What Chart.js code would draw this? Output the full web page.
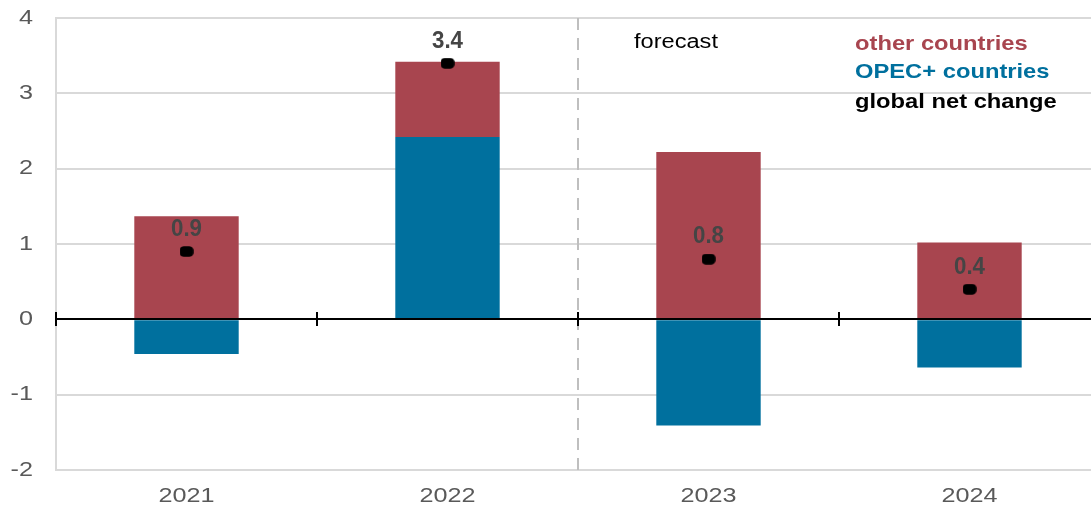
<!DOCTYPE html>
<html><head><meta charset="utf-8">
<script src="https://cdn.jsdelivr.net/npm/chart.js@4"></script>
<style>html,body{margin:0;padding:0;overflow:hidden;background:#fff;width:1091px;height:517px}canvas{display:block}</style>
</head><body>
<canvas id="c" width="1091" height="517" style="width:1091px;height:517px"></canvas>
<script>
const categories = ['2021','2022','2023','2024'];
const opecCountries = [-0.46, 2.42, -1.41, -0.64];
const otherCountries = [1.37, 1.0, 2.22, 1.02];
const globalNetChange = [0.9, 3.4, 0.8, 0.4];
const netLabels = ['0.9','3.4','0.8','0.4'];
const yTicks = [-2,-1,0,1,2,3,4];

const RED = '#a8454f', BLUE = '#00709e';
const FONT = '"Liberation Sans", Arial, sans-serif';

const dot = document.createElement('canvas');
dot.width = 14; dot.height = 11;
(function(){const g=dot.getContext('2d');g.fillStyle='#000';g.beginPath();g.roundRect(0.5,0.5,13,10,4);g.fill();})();

function txt(ctx, s, x, y, font, color, align, sx){
  ctx.save();
  ctx.translate(x, y); ctx.scale(sx, 1);
  ctx.font = font; ctx.fillStyle = color; ctx.textAlign = align; ctx.textBaseline = 'middle';
  ctx.fillText(s, 0, 0);
  ctx.restore();
}

// the plot area of the original continues a few pixels past the right edge of the picture
const extendRight = {
  id:'extendRight',
  afterLayout(chart){
    const a = chart.chartArea, x = chart.scales.x;
    a.right = 1100; a.width = a.right - a.left;
    x.right = 1100; x.width = x.right - x.left;
    x.configure();
  }
};

const overlay = {
  id:'overlay',
  beforeDatasetsDraw(chart){
    const {ctx, chartArea:a, scales:{x,y}} = chart;
    const mid = (x.getPixelForTick(1)+x.getPixelForTick(2))/2;
    ctx.save();
    ctx.strokeStyle='#bfbfbf'; ctx.lineWidth=2; ctx.setLineDash([12,8]);
    ctx.beginPath(); ctx.moveTo(mid, a.top); ctx.lineTo(mid, a.bottom); ctx.stroke();
    ctx.restore();
  },
  afterDatasetsDraw(chart){
    const {ctx, chartArea:a, scales:{x,y}} = chart;
    const step = x.getPixelForTick(1)-x.getPixelForTick(0);
    const y0 = Math.round(y.getPixelForValue(0));
    ctx.save();
    ctx.strokeStyle='#000'; ctx.lineWidth=2;
    ctx.beginPath(); ctx.moveTo(a.left, y0); ctx.lineTo(a.right, y0); ctx.stroke();
    for(let i=0;i<categories.length;i++){
      const bx = Math.round(x.getPixelForTick(i)-step/2);
      ctx.beginPath(); ctx.moveTo(bx, y0-7); ctx.lineTo(bx, y0+7); ctx.stroke();
    }
    ctx.restore();
    yTicks.forEach(v => txt(ctx, String(v), 33, y.getPixelForValue(v), '21px '+FONT, '#595959', 'right', 1.2));
    categories.forEach((c,i) => txt(ctx, c, x.getPixelForTick(i), 496, '21px '+FONT, '#595959', 'center', 1.2));
    const meta = chart.getDatasetMeta(2);
    meta.data.forEach((p,i)=> txt(ctx, netLabels[i], p.x, p.y-22, 'bold 23px '+FONT, '#454545', 'center', 0.97));
    meta.data.forEach(p=>{ ctx.drawImage(dot, p.x-7, p.y-5.5); });
    txt(ctx, 'forecast', 634, 42, '20px '+FONT, '#000', 'left', 1.18);
    txt(ctx, 'other countries', 855, 44, 'bold 21px '+FONT, RED, 'left', 1.13);
    txt(ctx, 'OPEC+ countries', 855, 72, 'bold 21px '+FONT, BLUE, 'left', 1.13);
    txt(ctx, 'global net change', 855, 102, 'bold 21px '+FONT, '#000', 'left', 1.13);
  }
};

new Chart(document.getElementById('c'), {
  data:{
    labels: categories,
    datasets:[
      {type:'bar', label:'OPEC+ countries', data: opecCountries, backgroundColor: BLUE, stack:'s', barPercentage:0.4, categoryPercentage:1.0, order:2},
      {type:'bar', label:'other countries', data: otherCountries, backgroundColor: RED, stack:'s', barPercentage:0.4, categoryPercentage:1.0, order:2},
      {type:'line', label:'global net change', data: globalNetChange, showLine:false, stack:'net', pointStyle: dot, pointRadius:7, order:1}
    ]
  },
  options:{
    responsive:false, animation:false,
    layout:{padding:{top:18, right:0, left:0, bottom:0}},
    plugins:{legend:{display:false}, tooltip:{enabled:false}},
    scales:{
      x:{stacked:true, offset:true,
         grid:{display:false, drawTicks:false},
         border:{display:false},
         ticks:{display:false},
         afterFit(s){ s.height = 47; }
      },
      y:{stacked:true, min:-2, max:4,
         afterBuildTicks(s){ s.ticks = yTicks.map(v=>({value:v})); },
         grid:{color:'#d9d9d9', lineWidth:2, drawTicks:false},
         border:{display:true, color:'#d9d9d9', width:2},
         ticks:{display:false},
         afterFit(s){ s.width = 56; }
      }
    }
  },
  plugins:[extendRight, overlay]
});
</script>
</body></html>
